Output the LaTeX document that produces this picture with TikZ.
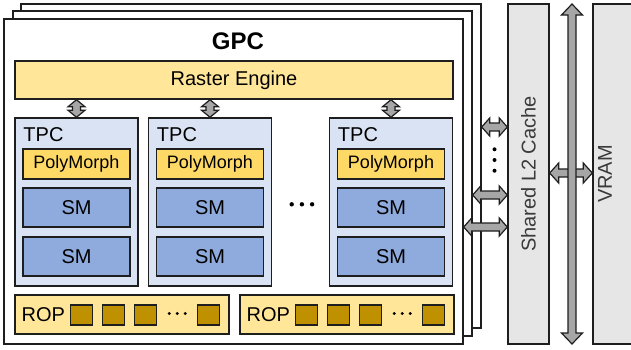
\documentclass[tikz,border=0pt]{standalone}
\usepackage{fontspec}
\setmainfont{Liberation Sans}
\usetikzlibrary{calc}

\definecolor{paleyellow}{HTML}{FFE699}
\definecolor{warmyellow}{HTML}{FFD966}
\definecolor{paleblue}{HTML}{DAE3F3}
\definecolor{smblue}{HTML}{8FAADC}
\definecolor{ropgold}{HTML}{BF9000}
\definecolor{memgray}{HTML}{E7E6E6}
\definecolor{arrowgray}{HTML}{A6A6A6}
\definecolor{edge}{HTML}{1E1E1E}
\definecolor{labelgray}{HTML}{3A3A3A}

\newcommand\txtsize[1]{\fontsize{#1}{#1}\selectfont}

\tikzset{
  frame/.style={draw=edge, line width=1.4pt, fill=white, inner sep=0pt},
  unitbox/.style={draw=edge, line width=1.5pt, inner sep=0pt, text=black,
    font=\txtsize{20}},
  rasterbox/.style={unitbox, fill=paleyellow},
  tpcbox/.style={unitbox, fill=paleblue, minimum width=123pt, minimum height=168pt},
  polybox/.style={unitbox, fill=warmyellow, minimum width=107pt, minimum height=30pt,
    font=\txtsize{18}},
  smbox/.style={unitbox, fill=smblue, minimum width=107pt, minimum height=39pt},
  ropbox/.style={unitbox, fill=paleyellow, minimum width=214pt, minimum height=39pt},
  ropunit/.style={draw=edge, line width=1.4pt, fill=ropgold, minimum width=22pt,
    minimum height=20pt, inner sep=0pt},
  membox/.style={draw=edge, line width=1.4pt, fill=memgray, inner sep=0pt},
  memlabel/.style={rotate=90, text=labelgray, font=\txtsize{20}},
  plain/.style={inner sep=0pt, text=black, font=\txtsize{20}},
  link/.style={draw=edge, line width=1.2pt, fill=arrowgray, line join=miter},
  % outline of a block arrow with a head at both ends:
  % #1 head length, #2 half head width, #3 half shaft width
  fat arrow/.style n args={3}{
    to path={
      -- ($(\tikztostart)!#1!(\tikztotarget)!#2!90:(\tikztotarget)$)
      -- ($(\tikztostart)!#1!(\tikztotarget)!#3!90:(\tikztotarget)$)
      -- ($(\tikztotarget)!#1!(\tikztostart)!#3!-90:(\tikztostart)$)
      -- ($(\tikztotarget)!#1!(\tikztostart)!#2!-90:(\tikztostart)$)
      -- (\tikztotarget)
      -- ($(\tikztotarget)!#1!(\tikztostart)!#2!90:(\tikztostart)$)
      -- ($(\tikztotarget)!#1!(\tikztostart)!#3!90:(\tikztostart)$)
      -- ($(\tikztostart)!#1!(\tikztotarget)!#3!-90:(\tikztotarget)$)
      -- ($(\tikztostart)!#1!(\tikztotarget)!#2!-90:(\tikztotarget)$)
      -- cycle}},
}

\begin{document}
\begin{tikzpicture}[x=1pt, y=-1pt]
\useasboundingbox (0,0) rectangle (631,349);

% memory side: shared L2 and VRAM
\node[membox, minimum width=41pt, minimum height=340pt] (l2) at (528.5,174) {};
\node[memlabel] (l2label) at (528.5,174) {Shared L2 Cache};
\node[membox, minimum width=70pt, minimum height=340pt] (vram) at (628,174) {};
\node[memlabel] (vramlabel) at (605,174) {VRAM};

% stacked GPC frames, back to front
\node[frame, minimum width=460pt, minimum height=324pt] (gpc3) at (251,166) {};
\node[frame, minimum width=459pt, minimum height=325pt] (gpc2) at (242.5,173.5) {};
\node[frame, minimum width=459pt, minimum height=325pt] (gpc) at (233.5,181.5) {};
\node[inner sep=0pt, font=\bfseries\txtsize{24}] (gpclabel) at (238,41) {GPC};

% raster engine
\node[rasterbox, minimum width=438pt, minimum height=38pt] (raster) at (234,80) {Raster Engine};

% texture processing clusters
\foreach \i/\cx in {1/76.5, 2/210, 3/391}{
  \node[tpcbox] (tpc\i) at (\cx,202) {};
  \node[plain, anchor=west] (tpclabel\i) at ([xshift=9pt, yshift=-17pt]tpc\i.north west) {TPC};
  \node[polybox] (pm\i) at (\cx,164) {PolyMorph};
  \node[smbox] (sma\i) at (\cx,207.5) {SM};
  \node[smbox] (smb\i) at (\cx,256.5) {SM};
  \draw[link] (raster.south -| tpc\i.north) to[fat arrow={7pt}{8.5pt}{4pt}] (tpc\i.north);
}

% ellipsis between the second and third cluster
\foreach \dx in {291.7, 301.9, 312.1}
  \fill[black] (\dx,204.3) circle (2.2pt);

% raster operation units
\foreach \i/\cx in {1/122, 2/347}{
  \node[ropbox] (rop\i) at (\cx,314.5) {};
  \node[plain] (roplabel\i) at ([xshift=29pt]rop\i.west) {ROP};
  \foreach \dx in {67,99,131,194}
    \node[ropunit] at ([xshift=\dx pt, yshift=-0.5pt]rop\i.west) {};
  \foreach \dx in {155,163,171}
    \fill[black] ([xshift=\dx pt, yshift=1pt]rop\i.west) circle (1.6pt);
}

% links from the GPC stack to the shared L2
\coordinate (la) at (0,127);
\coordinate (lb) at (0,195);
\coordinate (lc) at (0,227);
\draw[link] (gpc3.east |- la) to[fat arrow={8pt}{9pt}{4pt}] (l2.west |- la);
\draw[link] (gpc2.east |- lb) to[fat arrow={8pt}{9pt}{4pt}] (l2.west |- lb);
\draw[link] (gpc.east |- lc) to[fat arrow={8pt}{9pt}{4pt}] (l2.west |- lc);
\foreach \yy in {149.3, 160, 170.7}
  \fill[black] (494.5,\yy) circle (2pt);

% L2 to VRAM link, with the memory bus on top of it
\coordinate (lv) at (0,173);
\draw[link] (l2.east |- lv) to[fat arrow={9pt}{10pt}{4pt}] (vram.west |- lv);
\coordinate (bustop) at (572,4);
\coordinate (busbot) at (572,344);
\draw[link] (bustop) to[fat arrow={11pt}{10.5pt}{4pt}] (busbot);
\end{tikzpicture}
\end{document}
